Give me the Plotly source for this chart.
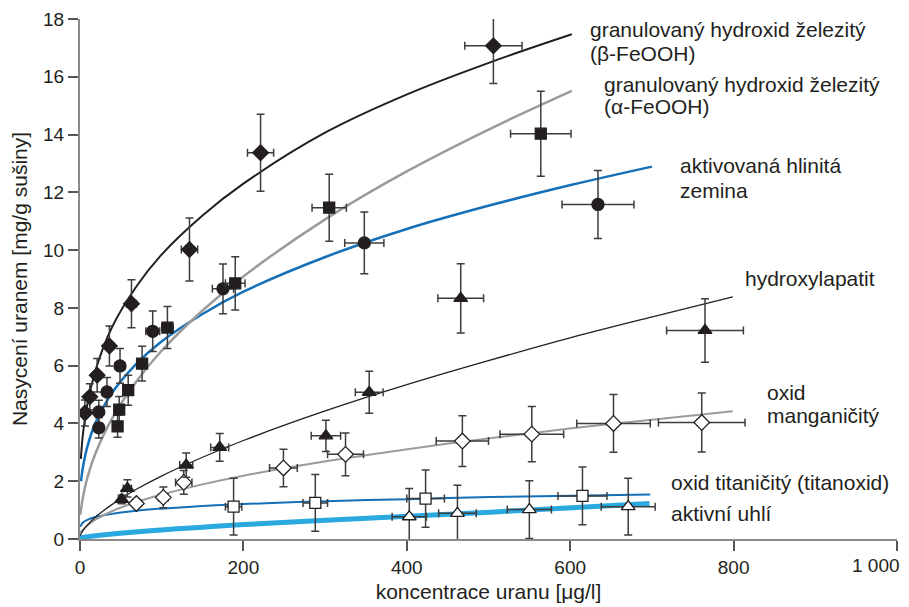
import plotly.graph_objects as go

# measured points: x = concentration [ug/l], y = saturation [mg/g], ex/ey = error half-widths
beta_x = [6, 12, 21, 36, 63, 134, 221, 506]
beta_y = [4.36, 4.92, 5.67, 6.68, 8.14, 10.02, 13.37, 17.07]
beta_ex = [4, 4, 5, 5, 6, 10, 16, 35]
beta_ey = [0.45, 0.45, 0.58, 0.69, 0.83, 1.09, 1.33, 1.3]

alpha_x = [46, 48, 59, 76, 107, 190, 305, 564]
alpha_y = [3.9, 4.48, 5.15, 6.07, 7.32, 8.85, 11.47, 14.03]
alpha_ex = [4, 4, 5, 6, 7, 12, 21, 37]
alpha_ey = [0.38, 0.45, 0.52, 0.6, 0.73, 0.92, 1.16, 1.47]

alu_x = [23, 23, 33, 49, 89, 175, 348, 634]
alu_y = [3.85, 4.4, 5.09, 5.99, 7.19, 8.66, 10.25, 11.58]
alu_ex = [4, 4, 5, 6, 8.5, 13, 24, 44]
alu_ey = [0.35, 0.4, 0.5, 0.6, 0.7, 0.86, 1.07, 1.18]

hap_x = [51, 58, 130, 171, 301, 354, 466, 765]
hap_y = [1.37, 1.75, 2.56, 3.17, 3.57, 5.08, 8.33, 7.22]
hap_ex = [4, 5, 8, 11, 18, 17, 28, 47]
hap_ey = [0.15, 0.3, 0.42, 0.48, 0.54, 0.73, 1.2, 1.1]

mn_x = [69, 102, 127, 249, 325, 468, 553, 653, 761]
mn_y = [1.23, 1.44, 1.96, 2.46, 2.93, 3.39, 3.63, 4.0, 4.03]
mn_ex = [5, 6, 10, 17, 22, 32, 39, 45, 53]
mn_ey = [0.15, 0.36, 0.41, 0.65, 0.74, 0.88, 0.96, 1.0, 1.02]

ti_x = [188, 288, 423, 615]
ti_y = [1.12, 1.25, 1.40, 1.49]
ti_ex = [10, 15, 23, 30]
ti_ey = [0.98, 0.98, 0.99, 1.0]

ac_x = [403, 462, 550, 671]
ac_y = [0.77, 0.89, 1.02, 1.12]
ac_ex = [21, 23, 27, 33]
ac_ey = [0.98, 0.97, 1.0, 0.98]

# fitted isotherm curves
beta_cx = [1, 4, 9, 19, 39, 69, 99, 150, 200, 301, 401, 502, 602]
beta_cy = [2.77, 3.73, 4.65, 5.84, 7.32, 8.74, 9.82, 11.2, 12.3, 14.08, 15.4, 16.5, 17.47]

alpha_cx = [0.3, 4, 9, 19, 39, 69, 99, 150, 200, 301, 401, 502, 602]
alpha_cy = [0.84, 1.51, 2.12, 2.97, 4.16, 5.45, 6.49, 7.91, 9.09, 11.08, 12.74, 14.2, 15.51]

alu_cx = [1.2, 4, 9, 19, 39, 69, 99, 150, 200, 301, 401, 502, 602, 700]
alu_cy = [2.0, 2.55, 3.2, 4.02, 5.05, 6.06, 6.82, 7.79, 8.56, 9.77, 10.74, 11.55, 12.26, 12.89]

hap_cx = [0, 4, 9, 19, 39, 69, 99, 150, 200, 301, 401, 502, 602, 703, 799]
hap_cy = [0.11, 0.31, 0.48, 0.76, 1.19, 1.72, 2.17, 2.83, 3.41, 4.44, 5.35, 6.19, 6.98, 7.71, 8.38]

mn_cx = [0, 4, 9, 19, 39, 69, 99, 150, 200, 301, 401, 502, 602, 703, 799]
mn_cy = [0.22, 0.33, 0.47, 0.67, 0.96, 1.28, 1.53, 1.89, 2.19, 2.69, 3.11, 3.49, 3.83, 4.14, 4.42]

ti_cx = [0, 4, 9, 19, 39, 69, 99, 150, 200, 301, 401, 502, 602, 698]
ti_cy = [0.42, 0.58, 0.66, 0.76, 0.87, 0.98, 1.05, 1.14, 1.21, 1.31, 1.38, 1.45, 1.50, 1.54]

ac_cx = [0, 9, 24, 49, 99, 150, 200, 301, 401, 502, 602, 697]
ac_cy = [0.04, 0.08, 0.13, 0.2, 0.31, 0.41, 0.5, 0.65, 0.79, 0.93, 1.08, 1.23]

x_ticks = [0, 200, 400, 600, 800, 1000]
x_ticktext = ["0", "200", "400", "600", "800", ""]
x_last_label = "1 000"
y_ticks = [0, 2, 4, 6, 8, 10, 12, 14, 16, 18]

BLACK = "#231f20"
GRAY = "#9b9b9b"
BLUE = "#1570b8"
LIGHTBLUE = "#2aa8e0"
ERR = "#3d3d3d"
FONT = "Liberation Sans, Arial, Helvetica, sans-serif"

fig = go.Figure()

curves = [
    (ac_cx, ac_cy, LIGHTBLUE, 5),
    (ti_cx, ti_cy, BLUE, 2),
    (mn_cx, mn_cy, GRAY, 2),
    (hap_cx, hap_cy, BLACK, 1.3),
    (alu_cx, alu_cy, BLUE, 2.5),
    (alpha_cx, alpha_cy, GRAY, 2.5),
    (beta_cx, beta_cy, BLACK, 2),
]
for cx, cy, color, w in curves:
    fig.add_trace(go.Scatter(x=cx, y=cy, mode="lines",
                             line=dict(color=color, width=w, shape="spline"),
                             hoverinfo="skip"))

points = [
    (ac_x, ac_y, ac_ex, ac_ey, "triangle-up", "white", 12),
    (ti_x, ti_y, ti_ex, ti_ey, "square", "white", 11),
    (mn_x, mn_y, mn_ex, mn_ey, "diamond", "white", 12),
    (hap_x, hap_y, hap_ex, hap_ey, "triangle-up", BLACK, 12),
    (alu_x, alu_y, alu_ex, alu_ey, "circle", BLACK, 12),
    (alpha_x, alpha_y, alpha_ex, alpha_ey, "square", BLACK, 11),
    (beta_x, beta_y, beta_ex, beta_ey, "diamond", BLACK, 12),
]
for px_, py_, ex, ey, sym, fill, size in points:
    fig.add_trace(go.Scatter(
        x=px_, y=py_, mode="markers",
        marker=dict(symbol=sym, color=fill, size=size,
                    line=dict(color=BLACK, width=1.3)),
        error_x=dict(type="data", array=ex, color=ERR, thickness=1.5, width=4),
        error_y=dict(type="data", array=ey, color=ERR, thickness=1.5, width=4),
    ))

labels = [
    (622, 17.62, "granulovaný hydroxid železitý"),
    (622, 16.82, "(β-FeOOH)"),
    (639, 15.75, "granulovaný hydroxid železitý"),
    (639, 14.96, "(α-FeOOH)"),
    (732, 12.93, "aktivovaná hlinitá"),
    (732, 12.08, "zemina"),
    (811, 9.03, "hydroxylapatit"),
    (839, 5.07, "oxid"),
    (839, 4.28, "manganičitý"),
    (721, 1.96, "oxid titaničitý (titanoxid)"),
    (721, 0.89, "aktivní uhlí"),
]
for lx, ly, txt in labels:
    fig.add_annotation(x=lx, y=ly, text=txt, showarrow=False, xanchor="left",
                       yanchor="middle", align="left",
                       font=dict(family=FONT, size=21, color=BLACK))

# last x tick label is pulled inside the figure edge, as in the original
fig.add_annotation(x=1000, y=0, text=x_last_label, showarrow=False,
                   xanchor="right", yanchor="top", xshift=5, yshift=-14,
                   font=dict(family=FONT, size=19, color=BLACK))

# page body adds an 8 px offset, so the figure is sized to fit inside the window
fig.update_layout(
    width=901, height=599,
    margin=dict(l=72, r=12, t=11, b=68, autoexpand=False),
    plot_bgcolor="white", paper_bgcolor="white",
    showlegend=False,
    font=dict(family=FONT, size=19, color=BLACK),
)
fig.update_xaxes(
    range=[0, 1000], tickvals=x_ticks, ticktext=x_ticktext,
    showline=True, linecolor="#8a8a8a", linewidth=2,
    ticks="outside", ticklen=10, tickwidth=1.5, tickcolor="#555",
    showgrid=False, zeroline=False, automargin=False,
    title=dict(text="koncentrace uranu [μg/l]", standoff=8, font=dict(size=21)),
)
fig.update_yaxes(
    range=[0, 18], tickvals=y_ticks,
    showline=True, linecolor="#8a8a8a", linewidth=2,
    ticks="outside", ticklen=10, tickwidth=1.5, tickcolor="#555",
    showgrid=False, zeroline=False, automargin=False,
    title=dict(text="Nasycení uranem [mg/g sušiny]", standoff=12, font=dict(size=21)),
)

fig.write_html("out.html")
